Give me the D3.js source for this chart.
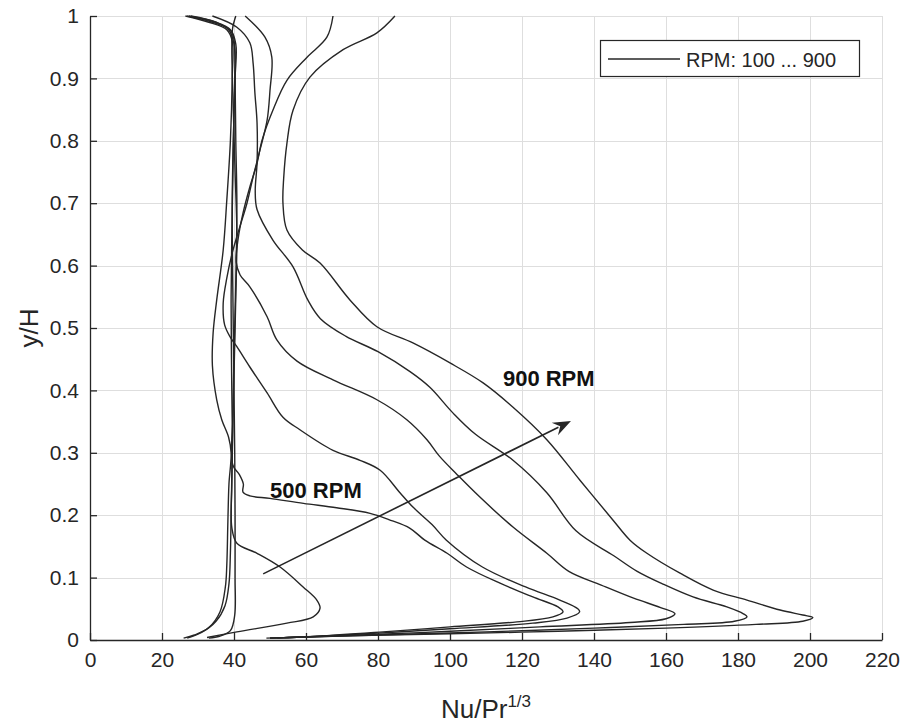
<!DOCTYPE html>
<html>
<head>
<meta charset="utf-8">
<script src="https://cdn.jsdelivr.net/npm/d3@7"></script>
<style>
  body { margin: 0; background: #fff; }
  svg { display: block; font-family: "Liberation Sans", Arial, sans-serif; }
</style>
</head>
<body>
<svg id="chart" width="904" height="725"></svg>
<script>
// Nu/Pr^(1/3) profiles along y/H, one line per rotation speed
const xTicks = [0, 20, 40, 60, 80, 100, 120, 140, 160, 180, 200, 220];
const yTicks = [0, 0.1, 0.2, 0.3, 0.4, 0.5, 0.6, 0.7, 0.8, 0.9, 1];

// [Nu/Pr^(1/3), y/H]
const rpm100 = [[26.5,1.0],[33,0.99],[38,0.978],[39.5,0.96],[39.5,0.9],[39,0.8],[38,0.705],[37,0.625],[35.2,0.545],[34.2,0.492],[34,0.44],[35.2,0.385],[36.6,0.353],[38.5,0.325],[39.2,0.3],[38.6,0.25],[38.3,0.19],[38,0.12],[37.6,0.085],[36.1,0.045],[33,0.02],[29,0.008],[26,0.003]];
const rpm200 = [[27,1.0],[34,0.99],[38.5,0.978],[40,0.955],[40.3,0.9],[40.5,0.8],[40.8,0.7],[40.6,0.6],[40.2,0.5],[39.8,0.4],[39.5,0.3],[39.2,0.2],[39,0.14],[38.6,0.09],[37.5,0.055],[35,0.03],[31,0.012],[27,0.003]];
const rpm300 = [[27.5,1.0],[35,0.99],[39,0.978],[40.5,0.955],[40.3,0.9],[39.8,0.8],[39.5,0.7],[39.6,0.6],[39.8,0.5],[40,0.4],[40.2,0.3],[40.3,0.2],[40.3,0.1],[40.2,0.04],[39,0.015],[36,0.006],[33,0.003]];
const rpm400 = [[40.5,1.0],[39.6,0.98],[39.4,0.95],[39.8,0.85],[40.3,0.75],[40.8,0.65],[40.5,0.55],[40.1,0.45],[39.7,0.35],[39.4,0.25],[39.4,0.18],[40.8,0.155],[46.4,0.139],[52.8,0.117],[59.2,0.085],[63,0.064],[63.9,0.051],[62,0.037],[54.7,0.027],[40.8,0.013],[32.5,0.004]];
const rpm500 = [[28,1.0],[35,0.99],[39.3,0.975],[40.2,0.95],[40,0.85],[39.7,0.75],[39.4,0.65],[39.2,0.55],[39.3,0.45],[39.5,0.35],[39.7,0.28],[41.5,0.265],[42.6,0.25],[42.5,0.237],[44.4,0.231],[50,0.227],[59.3,0.219],[68.5,0.212],[77.8,0.203],[83,0.193],[88.9,0.179],[93,0.16],[99.2,0.139],[104.6,0.117],[113.9,0.091],[123,0.069],[130,0.053],[131.4,0.045],[128.6,0.037],[118.6,0.029],[100,0.021],[81.4,0.013],[63,0.006],[50,0.003]];
const rpm600 = [[43.1,1.0],[48.6,0.966],[50.5,0.934],[50,0.881],[49.2,0.833],[47.2,0.785],[45.3,0.742],[43.6,0.7],[41.5,0.66],[39.5,0.62],[38,0.58],[37,0.54],[37.4,0.505],[39,0.485],[40.8,0.47],[44.4,0.4375],[49.2,0.396],[53.6,0.357],[58.3,0.337],[67.5,0.304],[75,0.288],[80.6,0.272],[86.1,0.236],[89.7,0.213],[95,0.185],[99,0.16],[109,0.117],[121,0.085],[130.5,0.064],[135.5,0.05],[136,0.045],[132.5,0.035],[123,0.027],[100,0.018],[80,0.011],[60,0.005],[52,0.003]];
const rpm700 = [[67.5,1.0],[65.8,0.966],[60.3,0.934],[54.7,0.897],[50.8,0.849],[47.8,0.801],[46.4,0.764],[44.4,0.726],[42.5,0.684],[41.1,0.641],[40.6,0.606],[41.7,0.585],[44.4,0.566],[49.2,0.518],[51.9,0.481],[57.5,0.447],[67.5,0.417],[79.7,0.385],[88,0.353],[93.6,0.321],[97,0.295],[102,0.265],[108.3,0.229],[117.5,0.181],[126.9,0.139],[133,0.11],[142,0.088],[151,0.067],[158.5,0.052],[162.5,0.042],[160,0.034],[150,0.028],[125,0.021],[100,0.014],[75,0.008],[55,0.004],[50,0.003]];
const rpm800 = [[34,1.0],[40.8,0.982],[44.4,0.957],[45.3,0.925],[45.8,0.877],[46.4,0.829],[46.4,0.764],[45.9,0.72],[46.4,0.69],[50.8,0.641],[56.4,0.598],[60.5,0.545],[64,0.515],[71,0.487],[80,0.462],[88.9,0.43],[94.4,0.405],[100.8,0.364],[107,0.33],[117.5,0.288],[126.9,0.236],[135,0.175],[145.5,0.135],[152,0.11],[159,0.09],[167.5,0.069],[176.9,0.053],[181.5,0.042],[182.5,0.037],[179,0.03],[165,0.025],[140,0.019],[110,0.013],[80,0.008],[55,0.004],[49,0.003]];
const rpm900 = [[84.7,1.0],[79.7,0.973],[70.3,0.946],[61.1,0.902],[56.4,0.849],[54.7,0.796],[53.8,0.74],[53.6,0.7],[54.7,0.657],[59,0.625],[63.9,0.604],[72.2,0.545],[79.7,0.502],[89.7,0.476],[100,0.444],[109.2,0.412],[117.5,0.373],[126.9,0.321],[136.1,0.256],[145.3,0.192],[150,0.16],[154.7,0.139],[163.9,0.107],[173.1,0.08],[182.5,0.064],[191.7,0.048],[198,0.04],[200.8,0.036],[198,0.03],[185,0.025],[160,0.019],[130,0.014],[100,0.01],[75,0.007],[55,0.004],[50,0.003]];
const series = [rpm100, rpm200, rpm300, rpm400, rpm500, rpm600, rpm700, rpm800, rpm900];

// annotations
const arrowFrom = [48.1, 0.106];
const arrowTo = [133.6, 0.351];
const notes = [
  { text: "500 RPM", at: [50, 0.228] },
  { text: "900 RPM", at: [114.7, 0.407] }
];
const legendText = "RPM: 100 ... 900";

const svg = d3.select("#chart");
const L = 90, R = 882, T = 16, B = 640;
const ink = "#262626";

const x = d3.scaleLinear().domain([0, 220]).range([L, R]);
const y = d3.scaleLinear().domain([0, 1]).range([B, T]);

// grid
const grid = svg.append("g").attr("stroke", "#dedede").attr("stroke-width", 1);
grid.selectAll(".gx").data(xTicks).join("line")
  .attr("x1", d => Math.round(x(d)) + 0.5).attr("x2", d => Math.round(x(d)) + 0.5)
  .attr("y1", T).attr("y2", B);
grid.selectAll(".gy").data(yTicks).join("line")
  .attr("y1", d => Math.round(y(d)) + 0.5).attr("y2", d => Math.round(y(d)) + 0.5)
  .attr("x1", L).attr("x2", R);

// axes, ticks point inward
const xAxis = svg.append("g")
  .attr("transform", `translate(0,${B})`)
  .call(d3.axisBottom(x).tickValues(xTicks).tickSizeInner(-7).tickSizeOuter(0).tickPadding(12).tickFormat(d3.format("~g")));
const yAxis = svg.append("g")
  .attr("transform", `translate(${L},0)`)
  .call(d3.axisLeft(y).tickValues(yTicks).tickSizeInner(-7).tickSizeOuter(0).tickPadding(11).tickFormat(d3.format("~g")));

[xAxis, yAxis].forEach(g => {
  g.select(".domain").attr("stroke", ink).attr("stroke-width", 1.3);
  g.selectAll(".tick line").attr("stroke", ink).attr("stroke-width", 1.3);
  g.selectAll(".tick text").attr("fill", ink).style("font-size", "21px")
    .style("font-family", "'Liberation Sans', Arial, sans-serif");
});

// curves
const line = d3.line()
  .x(d => x(d[0]))
  .y(d => y(d[1]))
  .curve(d3.curveCatmullRom.alpha(0.5));

svg.append("g").selectAll("path").data(series).join("path")
  .attr("d", line)
  .attr("fill", "none")
  .attr("stroke", ink)
  .attr("stroke-width", 1.4);

// arrow
const ax1 = x(arrowFrom[0]), ay1 = y(arrowFrom[1]);
const ax2 = x(arrowTo[0]), ay2 = y(arrowTo[1]);
const ang = Math.atan2(ay2 - ay1, ax2 - ax1);
const headLen = 18, headW = 7;
const bx = ax2 - headLen * Math.cos(ang), by = ay2 - headLen * Math.sin(ang);
const nx = -Math.sin(ang), ny = Math.cos(ang);
svg.append("line")
  .attr("x1", ax1).attr("y1", ay1)
  .attr("x2", bx + 4 * Math.cos(ang)).attr("y2", by + 4 * Math.sin(ang))
  .attr("stroke", ink).attr("stroke-width", 1.6);
svg.append("path")
  .attr("d", `M${ax2},${ay2} L${bx + headW * nx},${by + headW * ny} L${bx + 6 * Math.cos(ang)},${by + 6 * Math.sin(ang)} L${bx - headW * nx},${by - headW * ny} Z`)
  .attr("fill", ink);

// labels on the plot
svg.append("g").selectAll("text").data(notes).join("text")
  .attr("x", d => x(d.at[0]))
  .attr("y", d => y(d.at[1]))
  .attr("fill", "#111")
  .style("font-size", "22px")
  .style("font-weight", "bold")
  .text(d => d.text);

// legend
const lg = svg.append("g");
lg.append("rect")
  .attr("x", 600.5).attr("y", 40.5).attr("width", 259).attr("height", 36)
  .attr("fill", "#fff").attr("stroke", ink).attr("stroke-width", 1.2);
lg.append("line")
  .attr("x1", 608).attr("x2", 680).attr("y1", 59).attr("y2", 59)
  .attr("stroke", ink).attr("stroke-width", 1.4);
lg.append("text")
  .attr("x", 686).attr("y", 66.5)
  .attr("fill", ink).style("font-size", "20px")
  .text(legendText);

// axis titles
const xl = svg.append("text")
  .attr("x", (L + R) / 2).attr("y", 718)
  .attr("text-anchor", "middle")
  .attr("fill", ink).style("font-size", "26px");
xl.append("tspan").text("Nu/Pr");
xl.append("tspan").attr("dy", -11).style("font-size", "17px").text("1/3");

svg.append("text")
  .attr("transform", `translate(38,${(T + B) / 2}) rotate(-90)`)
  .attr("text-anchor", "middle")
  .attr("fill", ink).style("font-size", "26px")
  .text("y/H");
</script>
</body>
</html>
